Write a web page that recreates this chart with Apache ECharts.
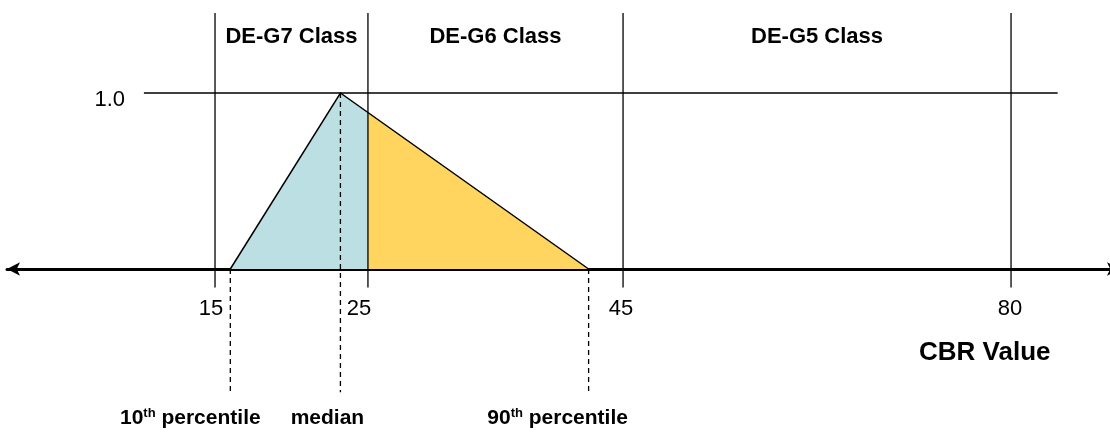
<!DOCTYPE html>
<html>
<head>
<meta charset="utf-8">
<script src="https://cdn.jsdelivr.net/npm/echarts@6/dist/echarts.min.js"></script>
<style>
  html, body { margin: 0; padding: 0; background: #fff; }
  #chart { width: 1110px; height: 432px; }
</style>
</head>
<body>
<div id="chart"></div>
<script>
// ---- data ----
const cbrTicks = [15, 25, 45, 80];                       // class boundaries (CBR)
const classNames = ['DE-G7 Class', 'DE-G6 Class', 'DE-G5 Class'];
const percentileNames = ['10{sup|th} percentile', 'median', '90{sup|th} percentile'];
const percentileCBR = [16.0, 23.2, 42.3];                // 10th, median, 90th (CBR)
const membership = [0, 1, 0];                            // triangle heights
const refLevel = 1.0;

// ---- schematic (non-linear) axis scale: fraction of axis length where each tick sits ----
const SCALE_POS = [0.1869, 0.3243, 0.5535, 0.9021];
function toPos(v) {
  let i = 0;
  if (v <= cbrTicks[0]) i = 0;
  else if (v >= cbrTicks[cbrTicks.length - 1]) i = cbrTicks.length - 2;
  else { while (v > cbrTicks[i + 1]) i++; }
  const t = (v - cbrTicks[i]) / (cbrTicks[i + 1] - cbrTicks[i]);
  return SCALE_POS[i] + t * (SCALE_POS[i + 1] - SCALE_POS[i]);
}

const FONT = '"Liberation Sans", Arial, Helvetica, sans-serif';
const LINE_TOP = 1.455, LINE_BOTTOM = -0.105, DASH_BOTTOM = -0.70;
const TICK_LABEL_SHIFT = [8, 18, 4, 2];   // style: right padding nudging tick labels left

const chart = echarts.init(document.getElementById('chart'), null, { renderer: 'canvas' });

const series = [];

// Triangle (membership function), split at the DE-G7 / DE-G6 boundary
series.push({
  type: 'custom',
  coordinateSystem: 'cartesian2d',
  silent: true,
  clip: false,
  z: 1,
  data: [[0.5, 0.5]],
  renderItem: function (params, api) {
    const A = api.coord([toPos(percentileCBR[0]), membership[0]]);
    const B = api.coord([toPos(percentileCBR[1]), membership[1]]);
    const P = api.coord([toPos(percentileCBR[2]), membership[2]]);
    const xb = api.coord([toPos(cbrTicks[1]), 0])[0];
    const t = (xb - B[0]) / (P[0] - B[0]);
    const yc = B[1] + t * (P[1] - B[1]);
    return {
      type: 'group',
      children: [
        { type: 'polygon', shape: { points: [A, B, [xb, yc], [xb, A[1]]] },
          style: { fill: '#BBDFE3', stroke: null } },
        { type: 'polygon', shape: { points: [[xb, yc], P, [xb, A[1]]] },
          style: { fill: '#FFD55F', stroke: null } },
        { type: 'polyline', shape: { points: [A, B, P] },
          style: { fill: null, stroke: '#000', lineWidth: 1.5 } }
      ]
    };
  }
});

// Class boundary lines
cbrTicks.forEach(function (v) {
  series.push({
    type: 'line', silent: true, symbol: 'none', z: 3, clip: false,
    lineStyle: { color: '#000', width: 1.3 },
    data: [[toPos(v), LINE_TOP], [toPos(v), LINE_BOTTOM]]
  });
});

// 1.0 reference line
series.push({
  type: 'line', silent: true, symbol: 'none', z: 3, clip: false,
  lineStyle: { color: '#000', width: 1.5 },
  data: [[0.123, refLevel], [0.944, refLevel]]
});

// Percentile dashed lines
percentileCBR.forEach(function (v, i) {
  series.push({
    type: 'line', silent: true, symbol: 'none', z: 4, clip: false,
    lineStyle: { color: '#000', width: 1.3, type: [5, 4] },
    data: [[toPos(v), membership[i]], [toPos(v), DASH_BOTTOM]]
  });
});

// Text labels drawn as black text elements anchored in data space
function textSeries(texts, points, fontSize, offsets) {
  return {
    type: 'custom', coordinateSystem: 'cartesian2d', silent: true, clip: false, z: 5,
    data: points,
    renderItem: function (params, api) {
      const p = api.coord([api.value(0), api.value(1)]);
      const dx = offsets ? offsets[params.dataIndex] : 0;
      return {
        type: 'text', x: p[0] + dx, y: p[1],
        style: {
          text: texts[params.dataIndex],
          font: 'bold ' + fontSize + 'px ' + FONT,
          fill: '#000', align: 'center', verticalAlign: 'middle',
          rich: {
            sup: { font: 'bold 13px ' + FONT, fill: '#000', verticalAlign: 'top', lineHeight: 13 }
          }
        }
      };
    }
  };
}

series.push(textSeries(
  classNames,
  classNames.map(function (n, i) { return [(toPos(cbrTicks[i]) + toPos(cbrTicks[i + 1])) / 2, 1.32]; }),
  22
));
series.push(textSeries(
  percentileNames,
  percentileCBR.map(function (v) { return [toPos(v), -0.845]; }),
  21,
  [-40, -13, -31]
));

const tickRich = {};
TICK_LABEL_SHIFT.forEach(function (s, i) {
  tickRich['t' + i] = { fontFamily: FONT, fontSize: 22, color: '#000', padding: [0, s, 0, 0] };
});

chart.setOption({
  animation: false,
  backgroundColor: '#fff',
  textStyle: { fontFamily: FONT },
  grid: { left: 7, right: -10, top: 5, bottom: 163, containLabel: false, outerBoundsMode: 'none' },
  xAxis: {
    type: 'value', min: 0, max: 1,
    axisLine: {
      show: true, onZero: false,
      symbol: ['arrow', 'arrow'], symbolSize: [10, 13],
      lineStyle: { color: '#000', width: 3 }
    },
    axisTick: { show: false },
    splitLine: { show: false },
    axisLabel: {
      show: true, customValues: SCALE_POS, margin: 29,
      fontFamily: FONT, fontSize: 22, color: '#000',
      rich: tickRich,
      formatter: function (v) {
        let best = 0;
        SCALE_POS.forEach(function (p, i) { if (Math.abs(p - v) < Math.abs(SCALE_POS[best] - v)) best = i; });
        return '{t' + best + '|' + cbrTicks[best] + '}';
      }
    }
  },
  yAxis: {
    type: 'value', min: 0, max: 1.5, offset: -137,
    axisLine: { show: false },
    axisTick: { show: false },
    splitLine: { show: false },
    axisLabel: {
      show: true, customValues: [refLevel], margin: 19,
      fontFamily: FONT, fontSize: 22, color: '#000',
      rich: { v: { fontFamily: FONT, fontSize: 22, color: '#000', padding: [14, 0, 0, 0] } },
      formatter: function (v) { return '{v|' + v.toFixed(1) + '}'; }
    }
  },
  graphic: [{
    type: 'text', left: 919, top: 340,
    style: { text: 'CBR Value', font: 'bold 26px ' + FONT, fill: '#000' }
  }],
  series: series
});
</script>
</body>
</html>
